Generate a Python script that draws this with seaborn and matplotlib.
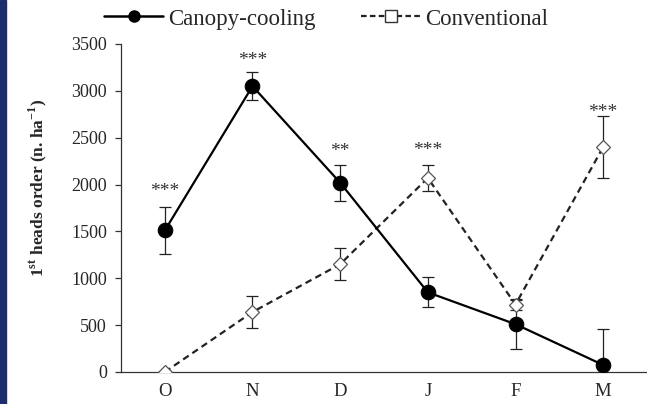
import matplotlib
matplotlib.use("Agg")
import matplotlib.pyplot as plt
import seaborn as sns
import pandas as pd
import numpy as np
from matplotlib.lines import Line2D
from matplotlib.patches import Rectangle

months = ["O", "N", "D", "J", "F", "M"]
canopy = [1510, 3050, 2020, 850, 510, 75]
canopy_err = [250, 150, 190, 160, 260, 380]
conventional = [0, 640, 1150, 2070, 720, 2400]
conventional_err = [0, 170, 170, 140, 60, 330]
stars = ["***", "***", "**", "***", "", "***"]
star_y = [1930, 3320, 2350, 2360, 0, 2770]
yticks = [0, 500, 1000, 1500, 2000, 2500, 3000, 3500]

sns.set_theme(style="white")
plt.rcParams["font.family"] = ["Liberation Serif", "DejaVu Serif"]
plt.rcParams["mathtext.fontset"] = "custom"
plt.rcParams["mathtext.rm"] = "Liberation Serif"
plt.rcParams["mathtext.bf"] = "Liberation Serif:bold"

df = pd.DataFrame({
    "month": months * 2,
    "x": list(range(len(months))) * 2,
    "value": canopy + conventional,
    "err": canopy_err + conventional_err,
    "series": ["Canopy-cooling"] * len(months) + ["Conventional"] * len(months),
})

fig = plt.figure(figsize=(6.47, 4.04), dpi=100)
fig.patches.append(Rectangle((0, 0), 6 / 647, 1, transform=fig.transFigure,
                             color="#1c2c6c", zorder=10))
ax = fig.add_axes([121 / 647, 32 / 404, 526 / 647, 328 / 404])

sub_c = df[df.series == "Canopy-cooling"]
sub_v = df[df.series == "Conventional"]

ax.errorbar(sub_v["x"], sub_v["value"], yerr=sub_v["err"], fmt="none",
            ecolor="#222222", elinewidth=0.9, capsize=4, capthick=0.9, zorder=2)
ax.errorbar(sub_c["x"], sub_c["value"], yerr=sub_c["err"], fmt="none",
            ecolor="#222222", elinewidth=0.9, capsize=4, capthick=0.9, zorder=2)

sns.lineplot(data=sub_v, x="x", y="value", ax=ax, color="#222222",
             linestyle=(0, (3, 2)), linewidth=1.6, marker="D", markersize=7,
             markerfacecolor="white", markeredgecolor="#555555",
             markeredgewidth=0.9, legend=False, zorder=3)
sns.lineplot(data=sub_c, x="x", y="value", ax=ax, color="black",
             linewidth=1.6, marker="o", markersize=10.5,
             markerfacecolor="black", markeredgecolor="black",
             legend=False, zorder=4)

for i, (s, yv) in enumerate(zip(stars, star_y)):
    if s:
        ax.text(i, yv, s, ha="center", va="center", fontsize=14,
                color="#333333")

ax.set_xlim(-0.5, 5.5)
ax.set_ylim(0, 3500)
ax.set_yticks(yticks)
ax.set_yticklabels([str(v) for v in yticks], fontsize=13)
ax.set_xticks(np.arange(len(months)))
ax.set_xticklabels(months, fontsize=13.5)
ax.set_xticks(np.arange(len(months)) + 0.5, minor=True)
ax.tick_params(axis="x", which="major", length=0, pad=8)
ax.tick_params(axis="x", which="minor", length=5, width=0.9, direction="inout",
               color="#333333")
ax.tick_params(axis="y", which="major", length=4, width=0.9, direction="out",
               left=True, color="#333333", pad=6)
ax.set_xlabel("")
ax.set_ylabel(r"1$^{\mathbf{st}}$ heads order (n. ha$^{\mathbf{-1}}$)",
              fontsize=12.5, fontweight="bold")
ax.yaxis.set_label_coords(-0.137, 0.56)
for sp in ["top", "right"]:
    ax.spines[sp].set_visible(False)
for sp in ["left", "bottom"]:
    ax.spines[sp].set_color("#333333")
    ax.spines[sp].set_linewidth(0.9)

h1 = Line2D([], [], color="black", linewidth=1.8, marker="o", markersize=8,
            markerfacecolor="black")
h2 = Line2D([], [], color="#222222", linewidth=1.6, linestyle=(0, (2.5, 1.5)),
            marker="s", markersize=8, markerfacecolor="white",
            markeredgecolor="#333333")
fig.legend([h1, h2], ["Canopy-cooling", "Conventional"], loc="center",
           bbox_to_anchor=(326 / 647, 1 - 19 / 404), ncol=2, frameon=False,
           fontsize=16.5, handlelength=2.6, handletextpad=0.2, columnspacing=2.0,
           borderpad=0)

fig.savefig("out.png", dpi=100)
